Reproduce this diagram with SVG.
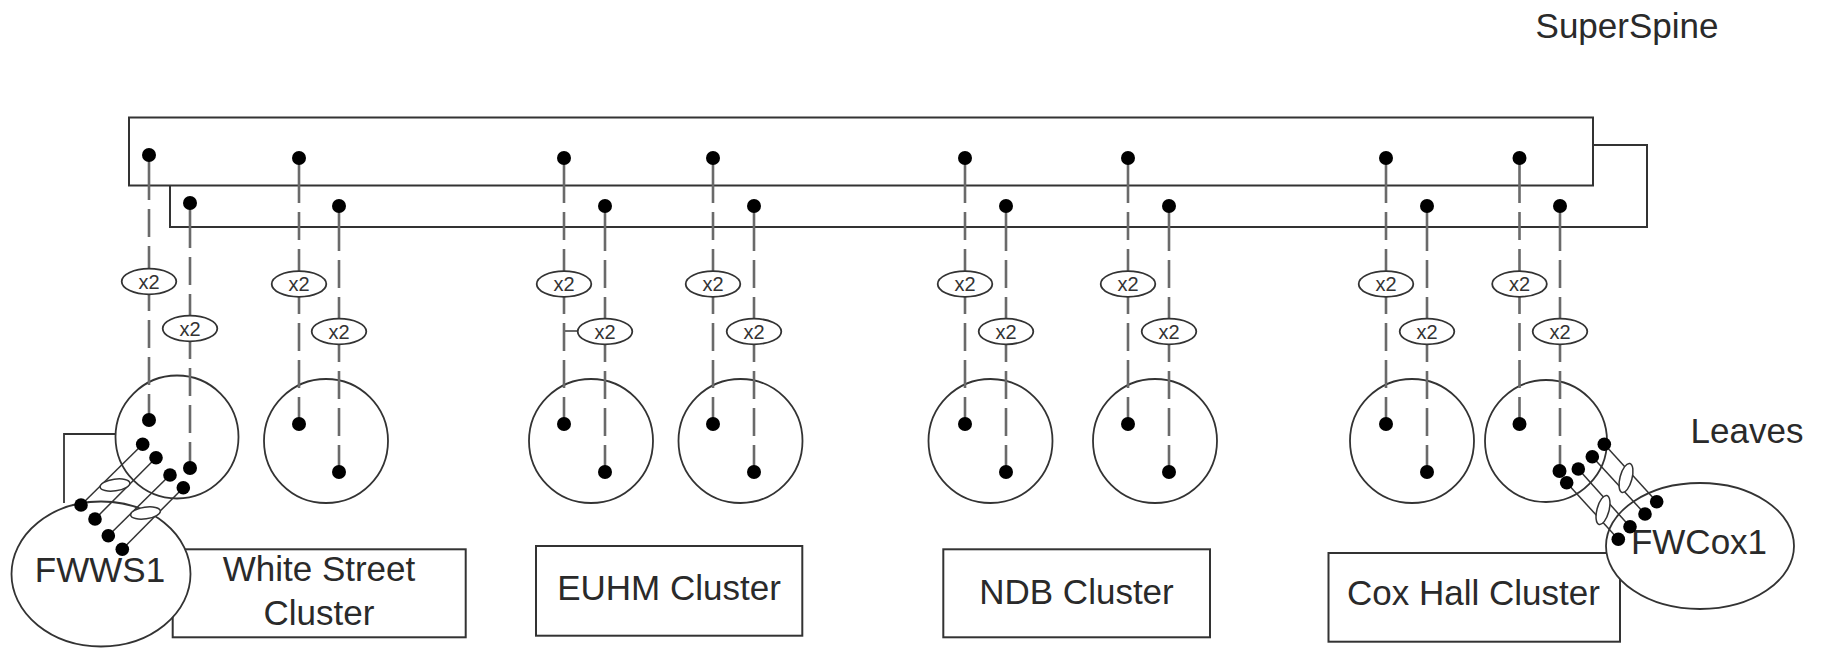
<svg xmlns="http://www.w3.org/2000/svg" width="1829" height="648" viewBox="0 0 1829 648">
<style>
.box{fill:#fff;stroke:#333;stroke-width:2}
.leaf{fill:none;stroke:#333;stroke-width:1.8}
.fw{fill:#fff;stroke:#333;stroke-width:1.8}
.lbl{font-family:"Liberation Sans",Arial,sans-serif;font-size:35px;fill:#2a2a2a;text-anchor:middle}
.x2t{font-family:"Liberation Sans",Arial,sans-serif;font-size:20px;fill:#333;text-anchor:middle}
.up{stroke:#6a6a6a;stroke-width:2.6;fill:none;stroke-dasharray:45 9 28 9 28 9 28 9 28 9 28 9 28 9 40 9}
.x2{fill:#fff;stroke:#333;stroke-width:1.8}
.dot{fill:#000}
.link{stroke:#333;stroke-width:1.5;fill:none}
.bund{fill:#fff;stroke:#333;stroke-width:1.5}
.conn{stroke:#333;stroke-width:1.8;fill:none}
</style>
<rect width="1829" height="648" fill="#fff"/>

<g id="superspine">
<rect class="box" x="170" y="145" width="1477" height="82"/>
<rect class="box" x="129" y="117.5" width="1464" height="68"/>
<text class="lbl" x="1627" y="38">SuperSpine</text>
</g>

<text class="lbl" x="1747" y="443">Leaves</text>

<g id="fw-leaf-link">
<polyline class="conn" points="64,503 64,434 116,434"/>
</g>

<g id="leaf1"><circle class="leaf" cx="177" cy="437" r="61.5"/></g>
<g id="leaf2"><circle class="leaf" cx="326" cy="441" r="62"/></g>
<g id="leaf3"><circle class="leaf" cx="591" cy="441" r="62"/></g>
<g id="leaf4"><circle class="leaf" cx="740.5" cy="441" r="62"/></g>
<g id="leaf5"><circle class="leaf" cx="990.5" cy="441" r="62"/></g>
<g id="leaf6"><circle class="leaf" cx="1155" cy="441" r="62"/></g>
<g id="leaf7"><circle class="leaf" cx="1412" cy="441" r="62"/></g>
<g id="leaf8"><circle class="leaf" cx="1546" cy="441" r="61"/></g>

<g id="white-street-cluster">
<rect class="box" x="172.7" y="549.3" width="293" height="88"/>
<text class="lbl" x="319" y="581">White Street</text>
<text class="lbl" x="319" y="625">Cluster</text>
</g>
<g id="euhm-cluster">
<rect class="box" x="536" y="546" width="266.3" height="89.7"/>
<text class="lbl" x="669" y="600">EUHM Cluster</text>
</g>
<g id="ndb-cluster">
<rect class="box" x="943.3" y="549.3" width="266.7" height="88"/>
<text class="lbl" x="1076.5" y="604">NDB Cluster</text>
</g>
<g id="coxhall-cluster">
<rect class="box" x="1328.5" y="553" width="291.5" height="88.7"/>
<text class="lbl" x="1473.5" y="605">Cox Hall Cluster</text>
</g>

<g id="fwws1">
<ellipse class="fw" cx="101" cy="574" rx="89.5" ry="72.5"/>
<text class="lbl" x="100" y="582">FWWS1</text>
</g>
<g id="fwcox1">
<ellipse class="fw" cx="1700" cy="546" rx="94" ry="63"/>
<text class="lbl" x="1699" y="554">FWCox1</text>
</g>

<g id="connectors">
<line class="up" x1="149" y1="155" x2="149" y2="420"/>
<line class="up" x1="190" y1="203" x2="190" y2="468"/>
<line class="up" x1="299" y1="158" x2="299" y2="424"/>
<line class="up" x1="339" y1="206" x2="339" y2="472"/>
<line class="up" x1="564" y1="158" x2="564" y2="424"/>
<line class="up" x1="605" y1="206" x2="605" y2="472"/>
<line class="up" x1="713" y1="158" x2="713" y2="424"/>
<line class="up" x1="754" y1="206" x2="754" y2="472"/>
<line class="up" x1="965" y1="158" x2="965" y2="424"/>
<line class="up" x1="1006" y1="206" x2="1006" y2="472"/>
<line class="up" x1="1128" y1="158" x2="1128" y2="424"/>
<line class="up" x1="1169" y1="206" x2="1169" y2="472"/>
<line class="up" x1="1386" y1="158" x2="1386" y2="424"/>
<line class="up" x1="1427" y1="206" x2="1427" y2="472"/>
<line class="up" x1="1519.5" y1="158" x2="1519.5" y2="424"/>
<line class="up" x1="1560" y1="206" x2="1560" y2="471"/>
<line x1="564" y1="331" x2="578" y2="331" stroke="#6a6a6a" stroke-width="2"/>

<g>
<ellipse class="x2" cx="149" cy="281.5" rx="27.3" ry="12.8"/><text class="x2t" x="149" y="288.5">x2</text>
<ellipse class="x2" cx="190" cy="328.5" rx="27.3" ry="12.8"/><text class="x2t" x="190" y="335.5">x2</text>
<ellipse class="x2" cx="299" cy="284" rx="27.3" ry="12.8"/><text class="x2t" x="299" y="291">x2</text>
<ellipse class="x2" cx="339" cy="331.5" rx="27.3" ry="12.8"/><text class="x2t" x="339" y="338.5">x2</text>
<ellipse class="x2" cx="564" cy="284" rx="27.3" ry="12.8"/><text class="x2t" x="564" y="291">x2</text>
<ellipse class="x2" cx="605" cy="331.5" rx="27.3" ry="12.8"/><text class="x2t" x="605" y="338.5">x2</text>
<ellipse class="x2" cx="713" cy="284" rx="27.3" ry="12.8"/><text class="x2t" x="713" y="291">x2</text>
<ellipse class="x2" cx="754" cy="331.5" rx="27.3" ry="12.8"/><text class="x2t" x="754" y="338.5">x2</text>
<ellipse class="x2" cx="965" cy="284" rx="27.3" ry="12.8"/><text class="x2t" x="965" y="291">x2</text>
<ellipse class="x2" cx="1006" cy="331.5" rx="27.3" ry="12.8"/><text class="x2t" x="1006" y="338.5">x2</text>
<ellipse class="x2" cx="1128" cy="284" rx="27.3" ry="12.8"/><text class="x2t" x="1128" y="291">x2</text>
<ellipse class="x2" cx="1169" cy="331.5" rx="27.3" ry="12.8"/><text class="x2t" x="1169" y="338.5">x2</text>
<ellipse class="x2" cx="1386" cy="284" rx="27.3" ry="12.8"/><text class="x2t" x="1386" y="291">x2</text>
<ellipse class="x2" cx="1427" cy="331.5" rx="27.3" ry="12.8"/><text class="x2t" x="1427" y="338.5">x2</text>
<ellipse class="x2" cx="1519.5" cy="284" rx="27.3" ry="12.8"/><text class="x2t" x="1519.5" y="291">x2</text>
<ellipse class="x2" cx="1560" cy="331.5" rx="27.3" ry="12.8"/><text class="x2t" x="1560" y="338.5">x2</text>
</g>

<line class="link" x1="142.7" y1="444.3" x2="81" y2="505"/>
<line class="link" x1="156" y1="457.7" x2="95" y2="519"/>
<line class="link" x1="170" y1="475" x2="108.3" y2="535.7"/>
<line class="link" x1="183.3" y1="487.7" x2="122.3" y2="549.3"/>
<ellipse class="bund" cx="115" cy="485" rx="15" ry="5.8" transform="rotate(-8 115 485)"/>
<ellipse class="bund" cx="145.5" cy="513" rx="15" ry="5.8" transform="rotate(-8 145.5 513)"/>

<line class="link" x1="1604.3" y1="444.3" x2="1656.7" y2="501.7"/>
<line class="link" x1="1592.3" y1="456.7" x2="1645" y2="514"/>
<line class="link" x1="1578.3" y1="469" x2="1630" y2="526.7"/>
<line class="link" x1="1566.7" y1="482.7" x2="1618.3" y2="539.3"/>
<ellipse class="bund" cx="1626" cy="478" rx="6" ry="15" transform="rotate(15 1626 478)"/>
<ellipse class="bund" cx="1603" cy="510" rx="6" ry="15" transform="rotate(15 1603 510)"/>

<g class="dot">
<circle cx="149" cy="155" r="7"/><circle cx="190" cy="203" r="7"/>
<circle cx="299" cy="158" r="7"/><circle cx="339" cy="206" r="7"/>
<circle cx="564" cy="158" r="7"/><circle cx="605" cy="206" r="7"/>
<circle cx="713" cy="158" r="7"/><circle cx="754" cy="206" r="7"/>
<circle cx="965" cy="158" r="7"/><circle cx="1006" cy="206" r="7"/>
<circle cx="1128" cy="158" r="7"/><circle cx="1169" cy="206" r="7"/>
<circle cx="1386" cy="158" r="7"/><circle cx="1427" cy="206" r="7"/>
<circle cx="1519.5" cy="158" r="7"/><circle cx="1560" cy="206" r="7"/>

<circle cx="149" cy="420" r="7"/><circle cx="190" cy="468" r="7"/>
<circle cx="299" cy="424" r="7"/><circle cx="339" cy="472" r="7"/>
<circle cx="564" cy="424" r="7"/><circle cx="605" cy="472" r="7"/>
<circle cx="713" cy="424" r="7"/><circle cx="754" cy="472" r="7"/>
<circle cx="965" cy="424" r="7"/><circle cx="1006" cy="472" r="7"/>
<circle cx="1128" cy="424" r="7"/><circle cx="1169" cy="472" r="7"/>
<circle cx="1386" cy="424" r="7"/><circle cx="1427" cy="472" r="7"/>
<circle cx="1519.5" cy="424" r="7"/><circle cx="1559.5" cy="471" r="7"/>

<circle cx="142.7" cy="444.3" r="6.8"/><circle cx="156" cy="457.7" r="6.8"/>
<circle cx="170" cy="475" r="6.8"/><circle cx="183.3" cy="487.7" r="6.8"/>
<circle cx="81" cy="505" r="6.8"/><circle cx="95" cy="519" r="6.8"/>
<circle cx="108.3" cy="535.7" r="6.8"/><circle cx="122.3" cy="549.3" r="6.8"/>

<circle cx="1604.3" cy="444.3" r="6.8"/><circle cx="1592.3" cy="456.7" r="6.8"/>
<circle cx="1578.3" cy="469" r="6.8"/><circle cx="1566.7" cy="482.7" r="6.8"/>
<circle cx="1656.7" cy="501.7" r="6.8"/><circle cx="1645" cy="514" r="6.8"/>
<circle cx="1630" cy="526.7" r="6.8"/><circle cx="1618.3" cy="539.3" r="6.8"/>
</g>
</g>
</svg>
